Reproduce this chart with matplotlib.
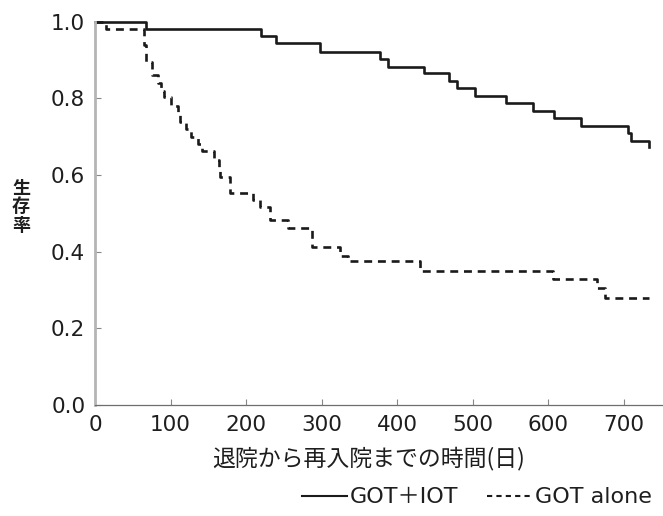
import matplotlib
matplotlib.use("Agg")
import matplotlib.pyplot as plt
from matplotlib.lines import Line2D

plt.rcParams['font.family'] = ['DejaVu Sans', 'Noto Sans CJK JP']

# GOT+IOT (solid) Kaplan-Meier steps
iot_days = [0, 68, 220, 239, 298, 377, 388, 436, 469, 479, 503, 544, 580, 608, 643, 705, 709, 733]
iot_surv = [1.0, 0.980, 0.962, 0.943, 0.921, 0.901, 0.882, 0.867, 0.846, 0.826, 0.807,
            0.787, 0.767, 0.748, 0.728, 0.708, 0.688, 0.673]

# GOT alone (dashed) Kaplan-Meier steps
alone_days = [0, 14, 65, 68, 76, 83, 87, 92, 101, 110, 113, 120, 127, 136, 141, 157, 164,
              166, 179, 209, 218, 232, 255, 287, 325, 335, 430, 607, 664, 675, 733]
alone_surv = [1.0, 0.98, 0.94, 0.895, 0.86, 0.84, 0.82, 0.804, 0.78, 0.76, 0.739, 0.72, 0.70,
              0.68, 0.663, 0.64, 0.62, 0.595, 0.554, 0.535, 0.515, 0.482, 0.461, 0.411, 0.389,
              0.375, 0.350, 0.328, 0.305, 0.278, 0.278]

xticks = [0, 100, 200, 300, 400, 500, 600, 700]
yticks = [0.0, 0.2, 0.4, 0.6, 0.8, 1.0]
xlabel = "退院から再入院までの時間(日)"
ylabel = "生\n存\n率"
labels = ["GOT＋IOT", "GOT alone"]

fig = plt.figure(figsize=(6.63, 5.16), dpi=100)
ax = fig.add_axes([95/663, 1-405/516, (663-95)/663, (405-21.5)/516])

ax.step(iot_days, iot_surv, where='post', color='#1a1a1a', lw=1.9, clip_on=False)
ax.step(alone_days, alone_surv, where='post', color='#1a1a1a', lw=1.9,
        dashes=(3.0, 2.2), clip_on=False)

ax.set_xlim(0, 752)
ax.set_ylim(0, 1.0)
ax.set_xticks(xticks)
ax.set_yticks(yticks)
ax.set_xticklabels([str(v) for v in xticks])
ax.set_yticklabels([f"{v:.1f}" for v in yticks])

for s in ['top', 'right']:
    ax.spines[s].set_visible(False)
ax.spines['left'].set_color('#b5b5b5')
ax.spines['left'].set_linewidth(2.0)
ax.spines['bottom'].set_color('#6e6e6e')
ax.spines['bottom'].set_linewidth(0.9)

ax.tick_params(axis='both', direction='in', length=4.5, width=0.8, colors='#888888',
               labelcolor='#1e1e1e', labelsize=15.5)
ax.tick_params(axis='y', pad=7)
ax.tick_params(axis='x', pad=7)

fig.text(369/663, 1-458/516, xlabel, ha='center', va='center',
         fontsize=16.5, color='#1e1e1e', family=['Noto Sans CJK JP', 'DejaVu Sans'])
fig.text(21/663, 1-207/516, ylabel, ha='center', va='center', fontsize=13,
         fontweight='bold', linespacing=0.95, color='#1e1e1e',
         family=['Noto Sans CJK JP', 'DejaVu Sans'])

handles = [Line2D([], [], color='#1a1a1a', lw=1.5),
           Line2D([], [], color='#1a1a1a', lw=1.5, dashes=(2.5, 2.0))]
leg = fig.legend(handles, labels, loc='lower right', bbox_to_anchor=(1.0, -0.005),
                 ncol=2, frameon=False, handlelength=2.0,
                 handletextpad=0.15, columnspacing=1.3, borderaxespad=0.1,
                 prop={'family': ['DejaVu Sans', 'Noto Sans CJK JP'], 'size': 16})
for t in leg.get_texts():
    t.set_color('#1e1e1e')

fig.savefig("out.png", dpi=100)
